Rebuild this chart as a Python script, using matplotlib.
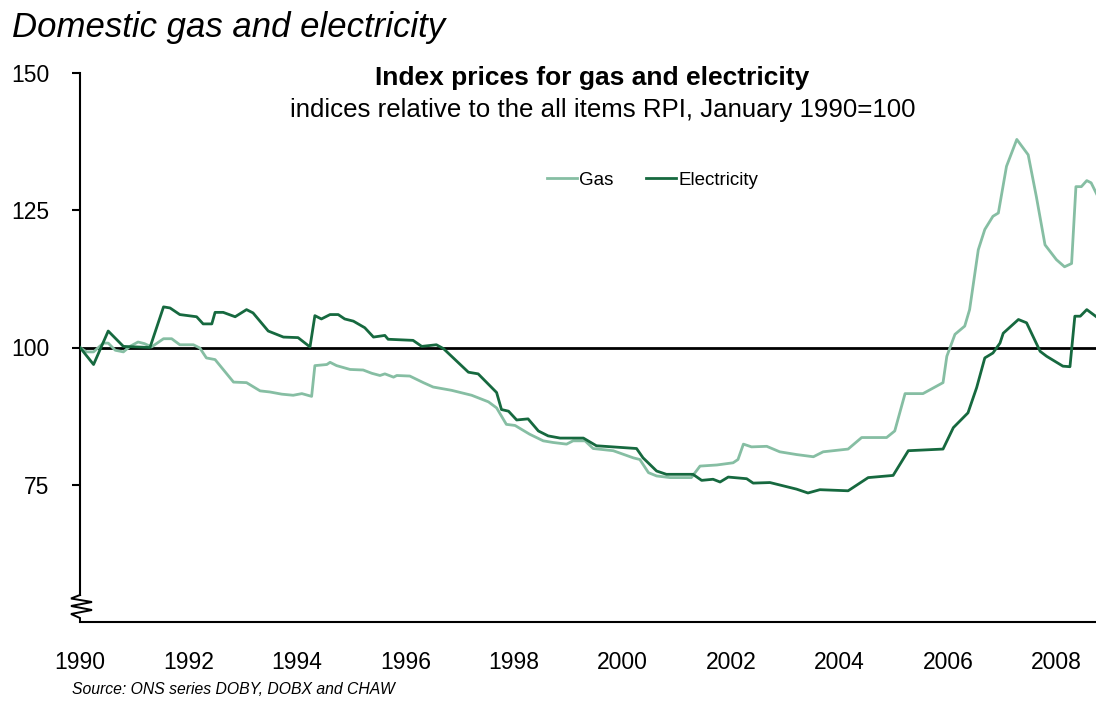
import matplotlib
matplotlib.use("Agg")
import matplotlib.pyplot as plt
from matplotlib.lines import Line2D

# Series breakpoints: (decimal year, index value)
gas_dates = [1990.00, 1990.12, 1990.25, 1990.43, 1990.52, 1990.65, 1990.80, 1990.92, 1991.07, 1991.19,
             1991.32, 1991.54, 1991.69, 1991.84, 1992.09, 1992.21, 1992.33, 1992.49, 1992.83, 1993.07,
             1993.32, 1993.50, 1993.72, 1993.93, 1994.09, 1994.27, 1994.33, 1994.55, 1994.61, 1994.73,
             1994.98, 1995.22, 1995.38, 1995.53, 1995.62, 1995.78, 1995.84, 1996.08, 1996.33, 1996.51,
             1996.85, 1997.22, 1997.53, 1997.68, 1997.86, 1998.02, 1998.29, 1998.54, 1998.72, 1998.97,
             1999.09, 1999.31, 1999.46, 1999.83, 2000.20, 2000.32, 2000.48, 2000.63, 2000.88, 2001.27,
             2001.43, 2001.74, 2002.04, 2002.13, 2002.23, 2002.38, 2002.66, 2002.90, 2003.21, 2003.52,
             2003.70, 2004.16, 2004.41, 2004.87, 2005.02, 2005.21, 2005.54, 2005.91, 2005.98, 2006.13,
             2006.31, 2006.40, 2006.56, 2006.68, 2006.83, 2006.93, 2007.08, 2007.27, 2007.48, 2007.63,
             2007.79, 2008.00, 2008.15, 2008.28, 2008.36, 2008.46, 2008.56, 2008.64, 2008.75]
gas_values = [100.0, 99.2, 99.2, 100.8, 100.8, 99.5, 99.2, 100.2, 101.0, 100.7,
              100.1, 101.6, 101.6, 100.5, 100.5, 99.9, 98.1, 97.8, 93.7, 93.6,
              92.1, 91.9, 91.5, 91.3, 91.6, 91.1, 96.7, 96.9, 97.3, 96.7,
              96.0, 95.9, 95.3, 94.9, 95.2, 94.6, 94.9, 94.8, 93.6, 92.8,
              92.2, 91.3, 90.1, 89.0, 86.0, 85.8, 84.2, 83.0, 82.7, 82.4,
              83.0, 83.0, 81.6, 81.2, 79.9, 79.6, 77.2, 76.6, 76.3, 76.3,
              78.4, 78.6, 79.0, 79.6, 82.4, 81.9, 82.0, 81.0, 80.5, 80.1,
              81.0, 81.5, 83.6, 83.6, 84.8, 91.6, 91.6, 93.6, 98.4, 102.4,
              103.9, 106.9, 117.8, 121.5, 123.9, 124.5, 133.0, 137.9, 135.1, 127.5,
              118.7, 116.0, 114.7, 115.3, 129.3, 129.3, 130.4, 130.0, 127.8]

elec_dates = [1990.00, 1990.25, 1990.52, 1990.80, 1991.29, 1991.54, 1991.66, 1991.84, 1992.15, 1992.27,
              1992.43, 1992.49, 1992.64, 1992.86, 1993.07, 1993.19, 1993.47, 1993.75, 1994.02, 1994.24,
              1994.33, 1994.45, 1994.61, 1994.76, 1994.88, 1995.04, 1995.25, 1995.41, 1995.62, 1995.68,
              1996.14, 1996.30, 1996.57, 1996.70, 1997.16, 1997.34, 1997.68, 1997.77, 1997.90, 1998.05,
              1998.26, 1998.45, 1998.63, 1998.85, 1999.28, 1999.52, 2000.26, 2000.38, 2000.63, 2000.81,
              2001.30, 2001.46, 2001.67, 2001.80, 2001.95, 2002.29, 2002.41, 2002.72, 2003.21, 2003.42,
              2003.64, 2004.16, 2004.53, 2004.99, 2005.27, 2005.91, 2006.10, 2006.37, 2006.53, 2006.68,
              2006.83, 2006.96, 2007.02, 2007.30, 2007.45, 2007.70, 2007.82, 2008.12, 2008.25, 2008.34,
              2008.44, 2008.56, 2008.75]
elec_values = [100.0, 96.9, 103.0, 100.2, 100.0, 107.4, 107.2, 106.0, 105.6, 104.3,
               104.3, 106.4, 106.4, 105.6, 106.9, 106.3, 103.0, 101.9, 101.8, 100.1,
               105.8, 105.2, 106.0, 106.0, 105.2, 104.8, 103.6, 101.9, 102.2, 101.5,
               101.3, 100.2, 100.5, 99.8, 95.5, 95.2, 91.8, 88.7, 88.4, 86.8,
               87.0, 84.8, 83.9, 83.5, 83.5, 82.1, 81.6, 79.9, 77.5, 76.9,
               76.9, 75.8, 76.0, 75.5, 76.4, 76.1, 75.3, 75.4, 74.2, 73.5,
               74.1, 73.9, 76.3, 76.7, 81.2, 81.5, 85.4, 88.1, 92.7, 98.1,
               99.0, 100.8, 102.6, 105.1, 104.5, 99.3, 98.4, 96.6, 96.5, 105.7,
               105.7, 106.9, 105.5]

x_ticks = [1990, 1992, 1994, 1996, 1998, 2000, 2002, 2004, 2006, 2008]
y_ticks = [75, 100, 125, 150]

gas_color = "#86bea3"
elec_color = "#16693f"

plt.rcParams["font.family"] = ["Liberation Sans", "DejaVu Sans"]

fig = plt.figure(figsize=(10.96, 7.04), dpi=100)
ax_w_px, ax_h_px = 1016, 549
ax = fig.add_axes([80 / 1096, 82 / 704, ax_w_px / 1096, ax_h_px / 704])

ax.plot(gas_dates, gas_values, color=gas_color, lw=2.0, solid_joinstyle="round", zorder=3)
ax.plot(elec_dates, elec_values, color=elec_color, lw=2.0, solid_joinstyle="round", zorder=4)
ax.axhline(100, color="black", lw=2.0, zorder=2)

ax.set_xlim(1990, 2008.73)
ax.set_ylim(50, 150)
ax.set_xticks(x_ticks)
ax.set_xticklabels([str(t) for t in x_ticks], fontsize=16.5)
ax.set_yticks(y_ticks)
ax.set_yticklabels([str(t) for t in y_ticks], fontsize=16.5)
ax.tick_params(axis="x", length=0, pad=21)
ax.tick_params(axis="y", length=6, width=1.5, direction="out", pad=16)

for side in ("top", "right"):
    ax.spines[side].set_visible(False)
ax.spines["left"].set_linewidth(1.5)
ax.spines["bottom"].set_linewidth(1.5)
ax.spines["left"].set_bounds(54.9, 150)

# Axis break marker on the value axis (offsets in pixels from the spine top of the break)
zig_px = [(0, 0), (-9, 3.5), (12, 7), (-9, 11), (12, 15), (-9, 19), (0, 23), (0, 27)]
zig_x = [dx / ax_w_px for dx, dy in zig_px]
zig_y = [(ax_h_px - (595 - 73) - dy) / ax_h_px for dx, dy in zig_px]
ax.plot(zig_x, zig_y, color="black", lw=1.4, clip_on=False, zorder=5,
        transform=ax.transAxes, solid_joinstyle="miter")

handles = [Line2D([], [], color=gas_color, lw=2.0), Line2D([], [], color=elec_color, lw=2.0)]
ax.legend(handles, ["Gas", "Electricity"], loc="center", bbox_to_anchor=(0.5635, 0.805),
          ncol=2, frameon=False, fontsize=13.5, handlelength=1.6, handletextpad=0.12,
          columnspacing=1.75)

fig.text(12 / 1096, 1 - 27 / 704, "Domestic gas and electricity", fontsize=25, style="italic",
         ha="left", va="center")
fig.text(592 / 1096, 1 - 78 / 704, "Index prices for gas and electricity", fontsize=19,
         weight="bold", ha="center", va="center")
fig.text(603 / 1096, 1 - 110 / 704, "indices relative to the all items RPI, January 1990=100",
         fontsize=18.6, ha="center", va="center")
fig.text(72 / 1096, 1 - 690 / 704, "Source: ONS series DOBY, DOBX and CHAW", fontsize=11.3,
         style="italic", ha="left", va="center")

fig.savefig("out.png", dpi=100)
